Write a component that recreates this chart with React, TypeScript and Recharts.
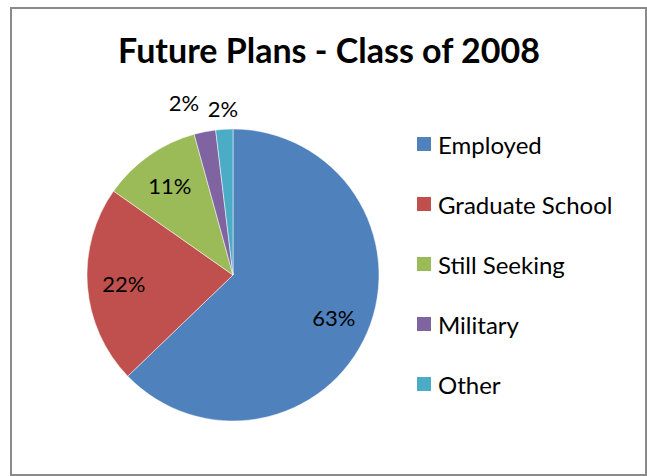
import React from 'react';
import { PieChart, Pie, Cell, Legend } from 'recharts';

const categories = ['Employed', 'Graduate School', 'Still Seeking', 'Military', 'Other'];
const shares = [63, 22, 11, 2.4, 1.9];
const labels = ['63%', '22%', '11%', '2%', '2%'];
const COLORS = ['#4F81BD', '#C0504D', '#9BBB59', '#8064A2', '#4BACC6'];

const data = categories.map((name, i) => ({ name, value: shares[i], label: labels[i] }));

const FONT = 'Lato, "Open Sans", sans-serif';
const RAD = Math.PI / 180;

// big slices get the label inside, the thin ones go outside the rim
const renderLabel = (props: any) => {
  const { cx, cy, midAngle, outerRadius, percent, index } = props;
  const a = ((midAngle % 360) + 360) % 360;
  let r = outerRadius * 0.75;
  let anchor: 'middle' | 'end' = 'middle';
  if (percent < 0.05) {
    if (a > 97) {
      r = outerRadius + 30;
      anchor = 'end';
    } else {
      r = outerRadius + 21;
    }
  }
  const x = cx + r * Math.cos(-a * RAD);
  const y = cy + r * Math.sin(-a * RAD);
  return (
    <text x={x} y={y} fill="#000" textAnchor={anchor} dominantBaseline="central" fontSize={22} fontFamily={FONT}>
      {data[index].label}
    </text>
  );
};

// keep the legend in data order (recharts sorts it otherwise)
const renderLegend = () => (
  <div>
    {categories.map((name, i) => (
      <div key={`leg-${i}`} style={{ display: 'flex', alignItems: 'center', height: 60 }}>
        <span style={{ width: 14, height: 14, background: COLORS[i], display: 'inline-block', marginRight: 7 }} />
        <span style={{ fontSize: 24, fontFamily: FONT, color: '#000' }}>{name}</span>
      </div>
    ))}
  </div>
);

const App: React.FC = () => {
  return (
    <div style={{ position: 'absolute', left: 0, top: 0, width: 647, height: 476, background: '#fff' }}>
      <div
        style={{
          position: 'absolute',
          left: 10,
          top: 7,
          width: 633,
          height: 465,
          border: '2px solid #8a8a8a',
        }}
      />
      <div
        style={{
          position: 'absolute',
          left: 0,
          top: 29,
          width: 658,
          textAlign: 'center',
          fontFamily: FONT,
          fontWeight: 'bold',
          fontSize: 34,
          lineHeight: '42px',
          color: '#000',
        }}
      >
        Future Plans - Class of 2008
      </div>
      <div style={{ position: 'absolute', left: 0, top: 0 }}>
        <PieChart width={647} height={476} margin={{ top: 0, right: 0, bottom: 0, left: 0 }}>
          <Pie
            data={data}
            dataKey="value"
            nameKey="name"
            cx={233}
            cy={275}
            outerRadius={146}
            startAngle={90}
            endAngle={-270}
            stroke="#ffffff"
            strokeWidth={0.5}
            label={renderLabel}
            labelLine={false}
            isAnimationActive={false}
          >
            {data.map((entry, index) => (
              <Cell key={`cell-${index}`} fill={COLORS[index]} />
            ))}
          </Pie>
          <Legend
            layout="vertical"
            align="right"
            verticalAlign="top"
            content={renderLegend}
            wrapperStyle={{ left: 417, top: 114, width: 225 }}
          />
        </PieChart>
      </div>
    </div>
  );
};

export default App;
